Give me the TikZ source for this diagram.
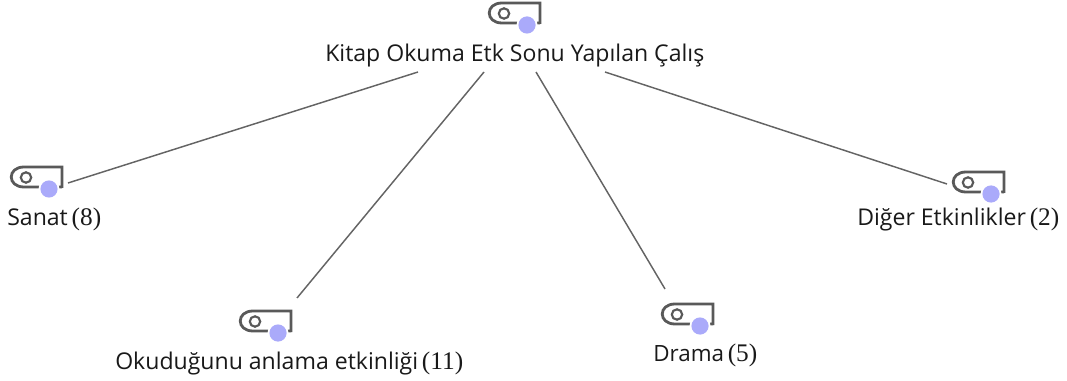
\documentclass[tikz,border=0pt]{standalone}
\usepackage{fontspec}
\setmainfont{Open Sans}
\newfontfamily\numfont{Liberation Serif}
\definecolor{icongray}{RGB}{89,89,89}
\definecolor{icondot}{RGB}{170,170,250}
\definecolor{linkgray}{RGB}{100,100,100}
\tikzset{
  lbl/.style={inner sep=0pt,text=black!90,anchor=base west},
  link/.style={draw=linkgray,line width=1.1pt},
  iconline/.style={draw=icongray,line width=2.1pt},
}
\newcommand{\fs}[1]{\fontsize{#1pt}{#1pt}\selectfont}
\newcommand{\iconat}[2]{%
  \draw[iconline] (#1,#2+21) -- (#1-38,#2+21) .. controls (#1-55,#2+21) and (#1-55,#2+1) .. (#1-38,#2+1) -- (#1,#2+1) -- (#1,#2+22);
  \draw[iconline,line width=1.6pt] (#1-36,#2+11.5) circle[radius=5.2];
  \fill[white] (#1-13,#2+23) circle[radius=10.5];
  \fill[icondot] (#1-13,#2+23) circle[radius=8.6];
}
\begin{document}
\begin{tikzpicture}[x=0.75pt,y=-0.75pt]
\useasboundingbox (0,0) rectangle (1067,381);
\iconat{540}{2}
\iconat{62}{166}
\iconat{291}{310}
\iconat{713}{303}
\iconat{1004}{171}
\node[lbl] (root) at (325,62) {\fs{17.3}Kitap Okuma Etk Sonu Yapılan Çalış};
\node[lbl] (sanat) at (7,225) {\fs{17.3}Sanat\,{\numfont\fs{19}(8)}};
\node[lbl] (okuma) at (115,369) {\fs{17.3}Okuduğunu anlama etkinliği\,{\numfont\fs{19}(11)}};
\node[lbl] (drama) at (653,361) {\fs{16.8}Drama\,{\numfont\fs{19}(5)}};
\node[lbl] (diger) at (857,225) {\fs{17.3}Diğer Etkinlikler\,{\numfont\fs{19}(2)}};
\coordinate (rA) at (418,72);
\coordinate (rB) at (484,72);
\coordinate (rC) at (536,72);
\coordinate (rD) at (605,72);
\coordinate (a) at (68,183);
\coordinate (b) at (297,298);
\coordinate (c) at (665,289);
\coordinate (d) at (947,184);
\draw[link] (rA) -- (a);
\draw[link] (rB) -- (b);
\draw[link] (rC) -- (c);
\draw[link] (rD) -- (d);
\end{tikzpicture}
\end{document}
